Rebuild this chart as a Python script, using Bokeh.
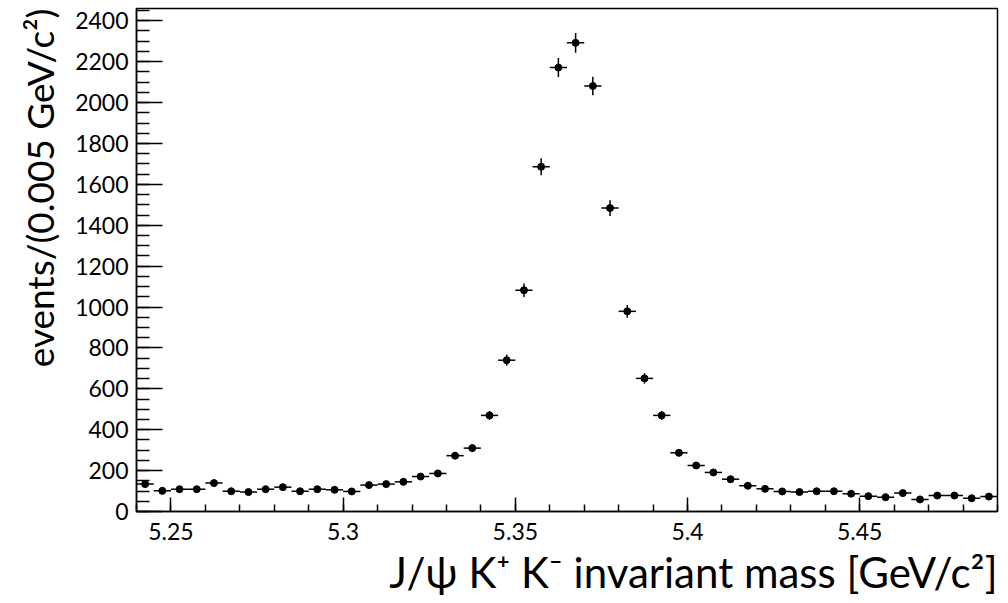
import math
from bokeh.plotting import figure
from bokeh.models import FixedTicker, Range1d, Title, ColumnDataSource, NumeralTickFormatter
from bokeh.embed import file_html
from bokeh.resources import INLINE

# bin centres (GeV/c^2), bin width 0.005
mass = [5.2425, 5.2475, 5.2525, 5.2575, 5.2625, 5.2675, 5.2725, 5.2775, 5.2825, 5.2875,
        5.2925, 5.2975, 5.3025, 5.3075, 5.3125, 5.3175, 5.3225, 5.3275, 5.3325, 5.3375,
        5.3425, 5.3475, 5.3525, 5.3575, 5.3625, 5.3675, 5.3725, 5.3775, 5.3825, 5.3875,
        5.3925, 5.3975, 5.4025, 5.4075, 5.4125, 5.4175, 5.4225, 5.4275, 5.4325, 5.4375,
        5.4425, 5.4475, 5.4525, 5.4575, 5.4625, 5.4675, 5.4725, 5.4775, 5.4825, 5.4875]
events = [134, 101, 109, 109, 139, 99, 95, 109, 119, 99,
          109, 106, 98, 129, 134, 145, 171, 186, 273, 310,
          470, 740, 1082, 1686, 2171, 2292, 2081, 1484, 979, 651,
          470, 287, 225, 191, 158, 126, 111, 98, 95, 99,
          99, 87, 75, 70, 90, 59, 78, 78, 65, 73]
bin_width = 0.005
x_tick_values = [5.25, 5.3, 5.35, 5.4, 5.45]
y_tick_values = [0, 200, 400, 600, 800, 1000, 1200, 1400, 1600, 1800, 2000, 2200, 2400]

x_title = "J/\u03c8 K\u207a K\u207b invariant mass [GeV/c\u00b2]"
y_title = "events/(0.005 GeV/c\u00b2)"

err = [math.sqrt(v) for v in events]
src = ColumnDataSource(dict(
    x=mass, y=events,
    x0=[m - bin_width / 2 for m in mass], x1=[m + bin_width / 2 for m in mass],
    y0=[v - e for v, e in zip(events, err)], y1=[v + e for v, e in zip(events, err)],
))

FONT = "Lato"
p = figure(width=1008, height=603, output_backend="svg", toolbar_location=None,
           x_range=Range1d(5.24, 5.49), y_range=Range1d(0, 2460),
           min_border_left=136, min_border_right=11, min_border_top=8, min_border_bottom=92)
p.grid.visible = False
p.outline_line_color = "black"
p.outline_line_width = 1.5
p.background_fill_color = "white"
p.border_fill_color = "white"

p.segment("x0", "y", "x1", "y", source=src, line_color="black", line_width=1.5)
p.segment("x", "y0", "x", "y1", source=src, line_color="black", line_width=1.5)
p.scatter("x", "y", source=src, size=7, color="black")

minor_x = [round(5.24 + 0.01 * k, 3) for k in range(26)]
p.xaxis.ticker = FixedTicker(ticks=x_tick_values, minor_ticks=minor_x)
p.xaxis.formatter = NumeralTickFormatter(format="0.[00]")
minor_y = [50 * k for k in range(50)]
p.yaxis.ticker = FixedTicker(ticks=y_tick_values, minor_ticks=minor_y)

for ax in (p.xaxis, p.yaxis):
    ax.major_label_text_font = FONT
    ax.major_label_text_font_size = "23px"
    ax.major_label_text_color = "black"
    ax.axis_line_color = "black"
    ax.axis_line_width = 1.5
    ax.major_tick_line_color = "black"
    ax.minor_tick_line_color = "black"
    ax.major_tick_line_width = 1.5
    ax.minor_tick_line_width = 1.5
    ax.major_tick_out = 0
    ax.minor_tick_out = 0

p.xaxis.major_tick_in = 14
p.xaxis.minor_tick_in = 7
p.xaxis.major_label_standoff = 11
p.yaxis.major_tick_in = 26
p.yaxis.minor_tick_in = 13
p.yaxis.major_label_standoff = 8

p.add_layout(Title(text=x_title, align="right", text_font=FONT, text_font_size="42px",
                   text_font_style="normal", text_color="black", standoff=4), "below")
p.add_layout(Title(text=y_title, align="right", text_font=FONT, text_font_size="37px",
                   text_font_style="normal", text_color="black", standoff=22), "left")

open("out.html", "w").write(file_html(p, INLINE))
